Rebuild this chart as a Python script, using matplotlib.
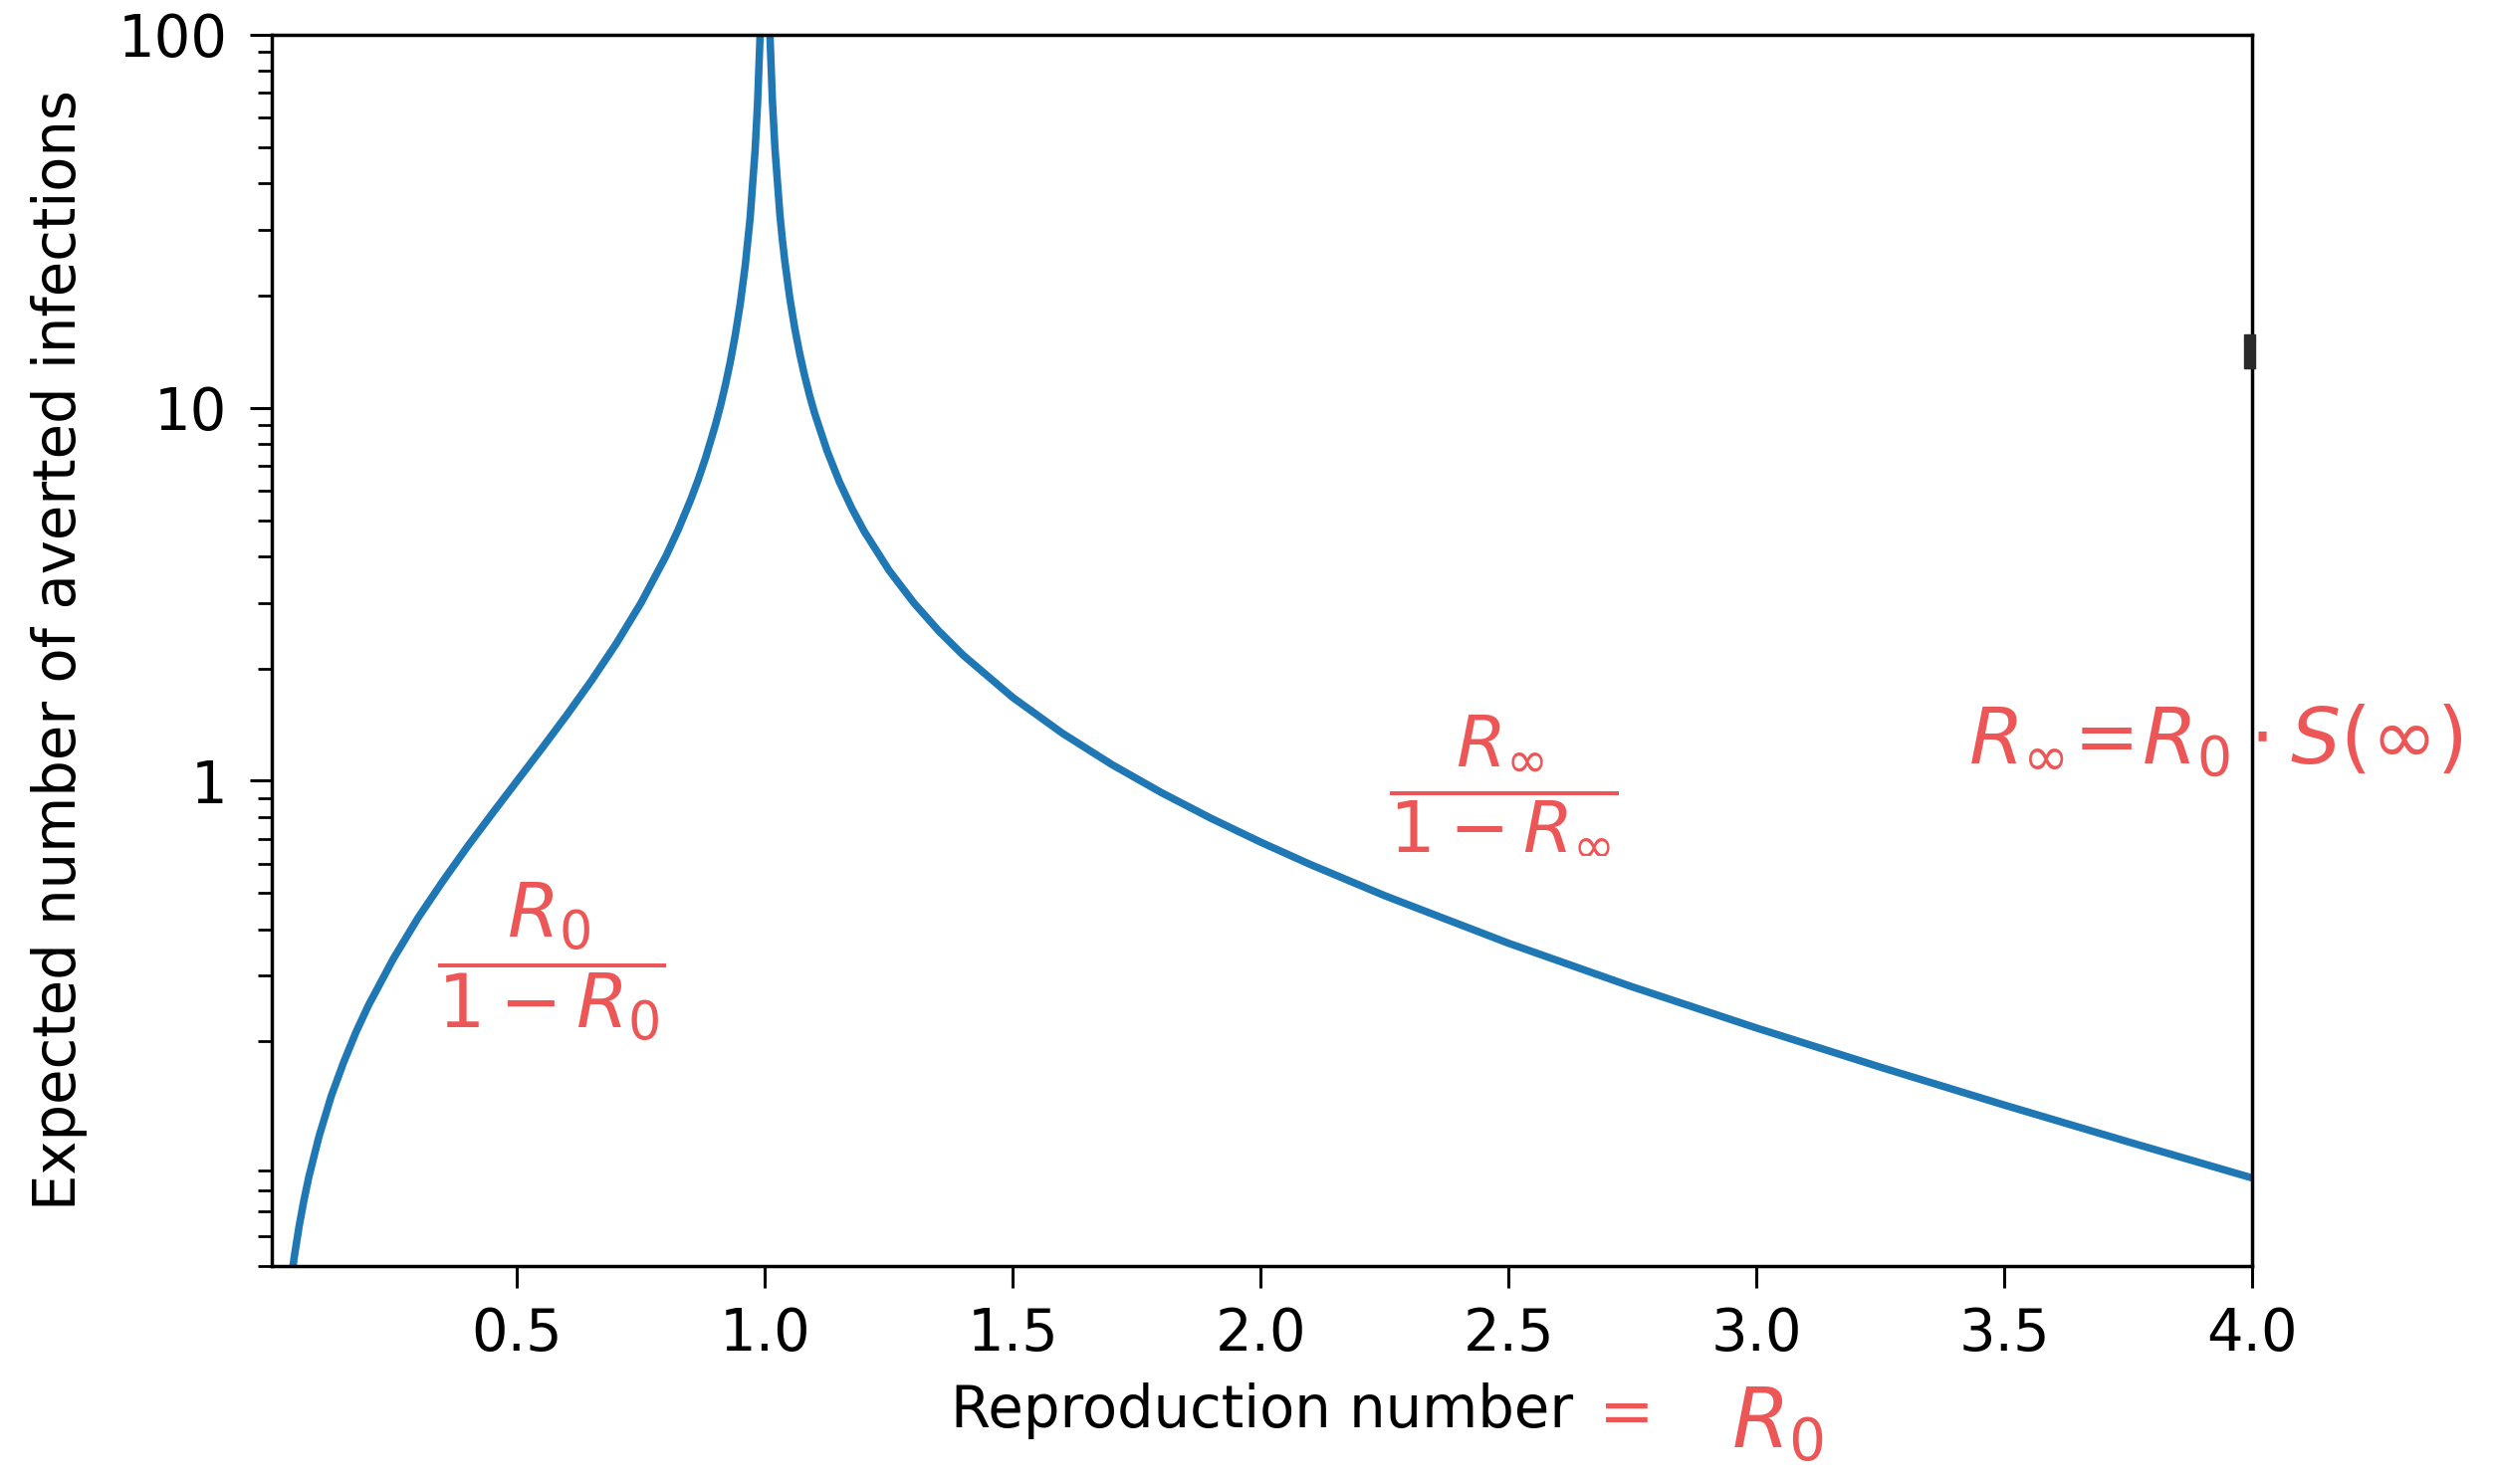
import matplotlib
matplotlib.use("Agg")
import matplotlib.pyplot as plt
from matplotlib.ticker import NullFormatter
from matplotlib.patches import Rectangle

# Values
r0_values = [0.04, 0.05, 0.06, 0.07, 0.08, 0.10, 0.125, 0.15, 0.175, 0.20,
             0.25, 0.30, 0.35, 0.40, 0.45, 0.50, 0.55, 0.60, 0.65, 0.70,
             0.75, 0.80, 0.825, 0.85, 0.865, 0.88, 0.90, 0.91, 0.92, 0.93,
             0.94, 0.95, 0.96, 0.97, 0.98, 0.985, 0.99, 0.995,
             1.005, 1.01, 1.015, 1.02, 1.03, 1.035, 1.04, 1.05, 1.06, 1.07,
             1.08, 1.09, 1.10, 1.125, 1.15, 1.175, 1.20, 1.25, 1.30, 1.35,
             1.40, 1.50, 1.60, 1.70, 1.80, 1.90, 2.00, 2.10, 2.25, 2.50,
             2.75, 3.00, 3.25, 3.50, 3.75, 4.00]
averted = [0.0417, 0.0526, 0.0638, 0.0753, 0.087, 0.111, 0.1429, 0.176, 0.2121, 0.25,
           0.333, 0.429, 0.538, 0.667, 0.818, 1.0, 1.222, 1.5, 1.857, 2.333,
           3.0, 4.0, 4.714, 5.667, 6.407, 7.333, 9.0, 10.11, 11.5, 13.29,
           15.67, 19.0, 24.0, 32.3, 49.0, 65.67, 99.0, 199.0,
           199.7, 99.67, 66.3, 49.7, 33.0, 28.24, 24.7, 19.7, 16.34, 13.97,
           12.18, 10.79, 9.68, 7.683, 6.333, 5.382, 4.666, 3.669, 3.002, 2.526,
           2.170, 1.672, 1.341, 1.105, 0.929, 0.7929, 0.6846, 0.5966, 0.4921, 0.3668,
           0.2801, 0.2174, 0.1707, 0.1351, 0.10765, 0.08614]

y_ticks = [1, 10, 100]
y_tick_labels = ["1", "10", "100"]
x_label = "Reproduction number"
y_label = "Expected number of averted infections"

RED = "#ec5656"
FS = 41.5

fig = plt.figure(figsize=(25.06, 14.91), dpi=100)
ax = fig.add_axes([273 / 2506, 1 - 1272 / 1491, (2262 - 273) / 2506, (1272 - 35) / 1491])

ax.plot(r0_values, averted, color="#1f77b4", lw=5.4, solid_joinstyle="round")
ax.set_yscale("log")
ax.set_xlim(0.005, 4.0)
ax.set_ylim(0.05, 100)
ax.set_yticks(y_ticks)
ax.set_yticklabels(y_tick_labels)
ax.yaxis.set_minor_formatter(NullFormatter())

for s in ax.spines.values():
    s.set_linewidth(2.5)
ax.tick_params(axis="both", which="major", length=16, width=2.2, labelsize=FS)
ax.tick_params(axis="both", which="minor", length=10, width=2.0)
ax.tick_params(axis="x", which="major", pad=13)
ax.tick_params(axis="y", which="major", pad=16)

ax.set_xlabel(x_label, fontsize=FS, labelpad=14)
ax.set_ylabel(y_label, fontsize=FS, labelpad=22)

# handwritten-style annotations
fig.text(0.221, 0.3514, r"$\dfrac{R_0}{1-R_0}$", color=RED, fontsize=54,
         ha="center", va="center")
fig.text(0.6026, 0.4715, r"$\dfrac{R_\infty}{1-R_\infty}$", color=RED, fontsize=52,
         ha="center", va="center")
fig.text(0.789, 0.5003, r"$R_\infty\!=\!R_0\cdot S(\infty)$", color=RED, fontsize=57,
         ha="left", va="center")
fig.text(0.652, 0.046, "=", color=RED, fontsize=48, ha="center", va="center")
fig.text(0.7127, 0.040, r"$R_0$", color=RED, fontsize=60, ha="center", va="center")

# small dark mark on the right spine
fig.add_artist(Rectangle((2254 / 2506, 1 - 370 / 1491), 11 / 2506, 34 / 1491,
                         transform=fig.transFigure, color="#2a2a2a"))

fig.savefig("out.png", dpi=100)
